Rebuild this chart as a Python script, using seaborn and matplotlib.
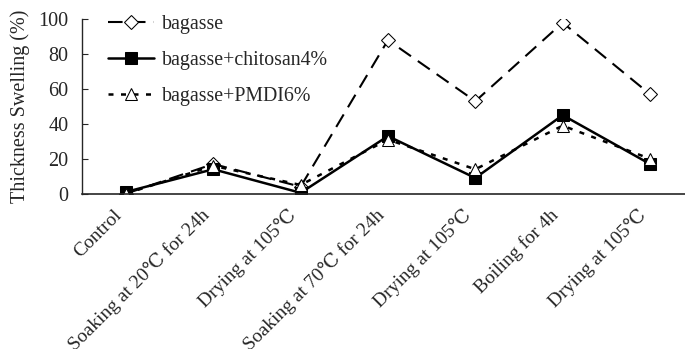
import numpy as np
import pandas as pd
import matplotlib
matplotlib.use("Agg")
import matplotlib.pyplot as plt
import seaborn as sns

# data
stages = ["Control", "Soaking at 20\u2103 for 24h", "Drying at 105\u2103",
          "Soaking at 70\u2103 for 24h", "Drying at 105\u2103",
          "Boiling for 4h", "Drying at 105\u2103"]
bagasse = [0, 17, 4, 88, 53, 98, 57]
chitosan = [1, 14, 0.5, 33, 9, 45, 17]
pmdi = [0, 16, 5, 31, 14, 39, 20]

sns.set_style("ticks")
plt.rcParams['font.family'] = ['Liberation Serif', 'DejaVu Serif']

fig, ax = plt.subplots(figsize=(6.85, 3.49), dpi=100)
fig.subplots_adjust(left=0.12, right=1.0, top=0.945, bottom=0.445)

pos = np.arange(len(stages))
sns.lineplot(x=pos, y=bagasse, ax=ax, color='black', lw=1.5,
             marker='D', markersize=7, markerfacecolor='white', markeredgecolor='black',
             label='bagasse')
ax.lines[-1].set_dashes((7, 4))
sns.lineplot(x=pos, y=chitosan, ax=ax, color='black', lw=1.8,
             marker='s', markersize=9, markerfacecolor='black', markeredgecolor='black',
             label='bagasse+chitosan4%')
sns.lineplot(x=pos, y=pmdi, ax=ax, color='black', lw=1.8,
             marker='^', markersize=9, markerfacecolor='white', markeredgecolor='black',
             label='bagasse+PMDI6%')
ax.lines[-1].set_dashes((2, 3))

ax.set_xlim(-0.5, 6.4)
ax.set_ylim(0, 100)
ax.set_yticks([0, 20, 40, 60, 80, 100])
ax.set_xticks(pos)
ax.tick_params(axis='y', labelsize=14.5, direction='in', length=4, pad=10)
ax.tick_params(axis='x', length=0, pad=4)
ax.set_xticklabels(stages, rotation=45, ha='right', rotation_mode='anchor', fontsize=14)
# shift the rotated labels a little down-left, like the original
shift = matplotlib.transforms.ScaledTranslation(-0.13, -0.07, fig.dpi_scale_trans)
for lab in ax.get_xticklabels():
    lab.set_transform(lab.get_transform() + shift)
ax.set_ylabel('Thickness Swelling (%)', fontsize=14.5, labelpad=6)
sns.despine(ax=ax)
ax.spines['bottom'].set_linewidth(1.2)
ax.spines['left'].set_linewidth(1.0)

leg = ax.legend(loc='upper left', bbox_to_anchor=(0.013, 1.125), frameon=False,
                fontsize=14.3, handlelength=2.3, handletextpad=0.4, labelspacing=0.85)

fig.savefig('out.png', dpi=100)
